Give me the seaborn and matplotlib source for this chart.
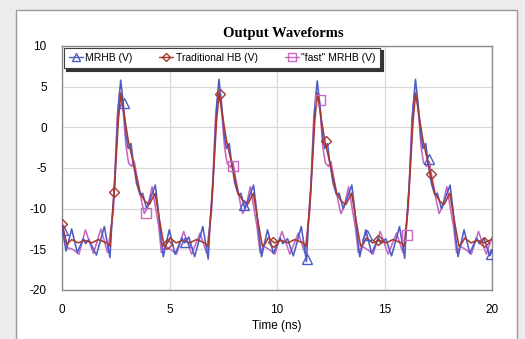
import matplotlib
matplotlib.use("Agg")
import matplotlib.pyplot as plt
from matplotlib.lines import Line2D
from matplotlib.patches import Rectangle
import seaborn as sns
import pandas as pd

# ---------------- data ----------------
series_names = ["MRHB (V)", "Traditional HB (V)", "\"fast\" MRHB (V)"]

mrhb_t = [0.00, 0.19, 0.45, 0.71, 0.99, 1.10, 1.24, 1.60, 1.97, 2.23, 2.31, 2.46, 2.62, 2.73, 2.85, 2.98,
          3.08, 3.21, 3.32, 3.47, 3.63, 3.75, 3.94, 4.09, 4.34, 4.48, 4.60, 4.71,
          4.99, 5.26, 5.57, 5.70, 5.90, 6.17, 6.55, 6.80, 6.88, 7.03, 7.19, 7.30, 7.42, 7.55,
          7.65, 7.78, 7.89, 8.04, 8.20, 8.32, 8.51, 8.66, 8.91, 9.05, 9.17, 9.28,
          9.56, 9.83, 10.14, 10.27, 10.49, 10.76, 11.13, 11.37, 11.45, 11.60, 11.76, 11.87, 11.99, 12.12,
          12.22, 12.35, 12.46, 12.61, 12.77, 12.89, 13.08, 13.23, 13.48, 13.62, 13.74, 13.85,
          14.13, 14.40, 14.71, 14.84, 15.06, 15.33, 15.70, 15.94, 16.02, 16.17, 16.33, 16.44, 16.56, 16.69,
          16.79, 16.92, 17.03, 17.18, 17.34, 17.46, 17.65, 17.80, 18.05, 18.19, 18.31, 18.42,
          18.70, 18.97, 19.28, 19.41, 19.63, 19.90, 20.00]
mrhb_v = [-12.4, -15.2, -12.5, -15.4, -13.7, -14.3, -13.8, -15.7, -12.2, -16.0, -12.2, -6.1, 2.5, 5.8, 3.0, -1.1,
          -2.6, -2.0, -4.4, -6.9, -8.3, -8.1, -10.0, -8.9, -7.1, -10.2, -13.5, -15.9,
          -12.6, -15.6, -13.6, -14.2, -13.5, -15.9, -12.2, -16.2, -12.2, -6.1, 2.5, 5.9, 3.0, -1.1,
          -2.6, -2.0, -4.4, -6.9, -8.3, -8.1, -10.0, -8.9, -7.1, -10.2, -13.5, -15.9,
          -12.6, -15.5, -13.6, -14.3, -13.7, -15.8, -12.2, -16.5, -12.2, -6.1, 2.5, 5.7, 3.0, -1.1,
          -2.6, -2.0, -4.4, -6.9, -8.3, -8.1, -10.0, -8.9, -7.1, -10.2, -13.5, -15.9,
          -12.6, -15.5, -13.6, -14.3, -13.7, -15.8, -12.2, -16.1, -12.2, -6.1, 2.5, 5.9, 3.0, -1.1,
          -2.6, -2.0, -4.4, -6.9, -8.3, -8.1, -10.0, -8.9, -7.1, -10.2, -13.5, -15.9,
          -12.6, -15.5, -13.6, -14.3, -13.7, -15.8, -15.2]

trad_t = [0.00, 0.22, 0.45, 0.75, 1.07, 1.38, 1.69, 2.08, 2.23, 2.43, 2.62, 2.74, 2.88, 3.08, 3.32, 3.63,
          3.86, 4.06, 4.33, 4.56, 4.75,
          4.88, 5.02, 5.31, 5.63, 5.94, 6.25, 6.64, 6.80, 7.00, 7.19, 7.31, 7.45, 7.65, 7.89, 8.20,
          8.43, 8.63, 8.90, 9.13, 9.32,
          9.45, 9.59, 9.88, 10.20, 10.51, 10.82, 11.21, 11.37, 11.57, 11.76, 11.88, 12.02, 12.22, 12.46, 12.77,
          13.00, 13.20, 13.47, 13.70, 13.89,
          14.02, 14.16, 14.45, 14.77, 15.08, 15.39, 15.78, 15.94, 16.14, 16.33, 16.45, 16.59, 16.79, 17.03, 17.34,
          17.57, 17.77, 18.04, 18.27, 18.46,
          18.59, 18.73, 19.02, 19.34, 19.65, 19.96, 20.00]
trad_v = [-11.9, -14.4, -13.8, -14.2, -13.9, -14.2, -13.8, -14.2, -14.6, -7.9, 0.9, 4.2, 1.7, -1.6, -4.4, -8.1,
          -9.1, -9.5, -8.1, -11.8, -14.6,
          -14.3, -13.6, -14.2, -13.9, -14.2, -13.8, -14.2, -14.6, -7.9, 0.9, 4.2, 1.7, -1.6, -4.4, -8.1,
          -9.1, -9.5, -8.1, -11.8, -14.6,
          -14.3, -13.6, -14.2, -13.9, -14.2, -13.8, -14.2, -14.6, -7.9, 0.9, 4.2, 1.7, -1.6, -4.4, -8.1,
          -9.1, -9.5, -8.1, -11.8, -14.6,
          -14.3, -13.6, -14.2, -13.9, -14.2, -13.8, -14.2, -14.6, -7.9, 0.9, 4.2, 1.7, -1.6, -4.4, -8.1,
          -9.1, -9.5, -8.1, -11.8, -14.6,
          -14.3, -13.6, -14.2, -13.9, -14.2, -13.8, -13.9]

fast_t = [0.00, 0.25, 0.50, 0.79, 1.09, 1.46, 1.81, 2.12, 2.39, 2.57, 2.68, 2.82, 2.98, 3.10, 3.24, 3.36,
          3.52, 3.72, 3.83, 3.98, 4.19, 4.37, 4.50, 4.62,
          4.82, 5.10, 5.33, 5.66, 6.03, 6.42, 6.72, 6.96, 7.14, 7.27, 7.40, 7.56, 7.68, 7.83, 7.95,
          8.09, 8.29, 8.40, 8.55, 8.76, 8.94, 9.07, 9.21,
          9.39, 9.67, 9.90, 10.23, 10.60, 10.99, 11.29, 11.53, 11.71, 11.84, 11.98, 12.13, 12.25, 12.39, 12.51,
          12.66, 12.86, 12.97, 13.12, 13.33, 13.51, 13.64, 13.78,
          13.96, 14.24, 14.47, 14.80, 15.17, 15.56, 15.86, 16.10, 16.28, 16.41, 16.55, 16.70, 16.82, 16.96, 17.08,
          17.23, 17.43, 17.54, 17.69, 17.90, 18.08, 18.21, 18.35,
          18.53, 18.81, 19.04, 19.37, 19.74, 20.00]
fast_v = [-11.7, -14.8, -15.0, -15.6, -12.6, -15.5, -12.5, -15.4, -10.2, 1.3, 4.3, 2.8, -2.4, -4.4, -4.8, -4.2,
          -6.5, -9.3, -10.6, -9.8, -7.3, -10.2, -12.2, -15.4,
          -14.6, -15.1, -15.6, -12.8, -15.6, -13.0, -15.4, -10.2, 1.3, 4.3, 2.8, -2.4, -4.4, -4.9, -4.2,
          -6.5, -9.3, -10.6, -9.8, -7.3, -10.2, -12.2, -15.4,
          -14.6, -15.1, -15.6, -12.8, -15.6, -13.0, -15.4, -10.2, 1.3, 4.3, 3.0, -2.4, -4.4, -4.8, -4.2,
          -6.5, -9.3, -10.6, -9.8, -7.3, -10.2, -12.2, -15.4,
          -14.6, -15.1, -15.6, -12.8, -15.6, -13.0, -15.4, -10.2, 1.3, 4.3, 2.8, -2.4, -4.4, -4.8, -4.2,
          -6.5, -9.3, -10.6, -9.8, -7.3, -10.2, -12.2, -15.4,
          -14.6, -15.1, -15.6, -12.8, -15.6, -13.5]

# marker positions (sparse symbols drawn on each trace)
mrhb_mk_t = [0.05, 2.88, 5.72, 8.48, 11.41, 14.17, 17.07, 19.95]
mrhb_mk_v = [-12.6, 2.95, -14.1, -9.6, -16.2, -13.2, -3.9, -15.6]
trad_mk_t = [0.02, 2.43, 4.87, 7.35, 9.80, 12.28, 14.70, 17.15, 19.62]
trad_mk_v = [-11.9, -7.9, -14.4, 4.05, -14.1, -1.7, -13.9, -5.7, -14.1]
fast_mk_t = [3.89, 7.94, 12.00, 16.03]
fast_mk_v = [-10.5, -4.76, 3.4, -13.2]

x_ticks = [0, 5, 10, 15, 20]
y_ticks = [-20, -15, -10, -5, 0, 5, 10]

colors = {series_names[0]: "#4c5cc4", series_names[1]: "#a8392c", series_names[2]: "#c766c3"}
markers = {series_names[0]: "^", series_names[1]: "D", series_names[2]: "s"}
msizes = {series_names[0]: 7, series_names[1]: 4.8, series_names[2]: 7}

df = pd.concat([
    pd.DataFrame({"t": mrhb_t, "v": mrhb_v, "series": series_names[0]}),
    pd.DataFrame({"t": trad_t, "v": trad_v, "series": series_names[1]}),
    pd.DataFrame({"t": fast_t, "v": fast_v, "series": series_names[2]}),
], ignore_index=True)
mk = {
    series_names[0]: (mrhb_mk_t, mrhb_mk_v),
    series_names[1]: (trad_mk_t, trad_mk_v),
    series_names[2]: (fast_mk_t, fast_mk_v),
}

# ---------------- figure ----------------
sns.set_theme(style="white")
plt.rcParams["font.family"] = ["Liberation Sans", "DejaVu Sans"]
plt.rcParams["text.color"] = "black"

fig = plt.figure(figsize=(5.25, 3.39), dpi=100, facecolor="#ececec")
panel = Rectangle((16 / 525, -0.01), (517 - 16) / 525, 1 - 10 / 339 + 0.01, transform=fig.transFigure,
                  facecolor="white", edgecolor="#9a9a9a", linewidth=1.0, zorder=-10)
fig.add_artist(panel)

ax = fig.add_axes([62 / 525, 1 - 290 / 339, (492 - 62) / 525, (290 - 46) / 339])
ax.set_zorder(1)
ax.set_facecolor("white")

draw_order = [series_names[2], series_names[0], series_names[1]]
for z, name in enumerate(draw_order):
    sub = df[df["series"] == name]
    sns.lineplot(data=sub, x="t", y="v", color=colors[name], lw=1.15, sort=False,
                 estimator=None, legend=False, ax=ax, zorder=3 + z,
                 solid_joinstyle="round", solid_capstyle="round")
    mt, mv = mk[name]
    ax.plot(mt, mv, linestyle="none", marker=markers[name], ms=msizes[name], mfc="none",
            mec=colors[name], mew=1.0, zorder=6 + z)

ax.set_xlim(0, 20)
ax.set_ylim(-20, 10)
ax.set_xticks(x_ticks)
ax.set_yticks(y_ticks)
ax.set_xticklabels([str(v) for v in x_ticks])
ax.set_yticklabels([str(v) for v in y_ticks])
ax.grid(True, color="#d9d9d9", linewidth=0.9)
ax.set_axisbelow(True)
for s in ax.spines.values():
    s.set_color("#8a8a8a")
    s.set_linewidth(1.0)
ax.tick_params(axis="both", length=0, labelsize=8.5, colors="black")
ax.tick_params(axis="y", pad=11)
ax.tick_params(axis="x", pad=10)
ax.set_xlabel("Time (ns)", fontsize=8.5, labelpad=3, color="black")
ax.set_ylabel("")

fig.text(283 / 525, 1 - 33 / 339, "Output Waveforms", ha="center", va="center",
         fontfamily="Liberation Serif", fontweight="bold", fontsize=10.5, color="black")

handles = [Line2D([], [], color=colors[n], lw=1.0, marker=markers[n], ms=msizes[n] * 0.85,
                  mfc="none", mec=colors[n]) for n in series_names]
leg = ax.legend(handles, series_names, loc="upper left", bbox_to_anchor=(0.0, 1.0), ncol=3,
                fontsize=7.5, frameon=True, fancybox=False, shadow={"color": "0.2", "alpha": 1.0},
                borderaxespad=0.15, handlelength=1.35, handletextpad=0.2, columnspacing=2.6,
                borderpad=0.5)
leg.get_frame().set_edgecolor("#404040")
leg.get_frame().set_linewidth(0.8)
leg.set_zorder(20)
for txt in leg.get_texts():
    txt.set_color("black")

fig.savefig("out.png", dpi=100, facecolor=fig.get_facecolor())
